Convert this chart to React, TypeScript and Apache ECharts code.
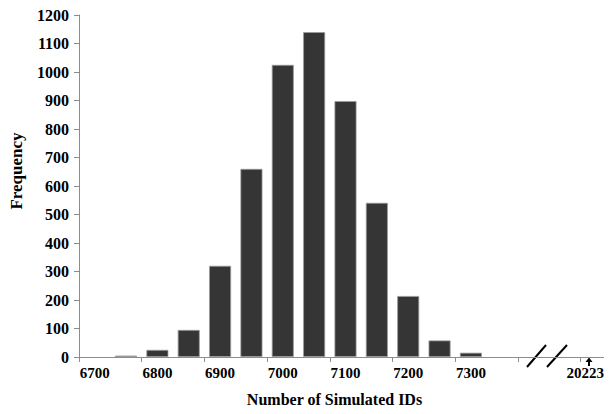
import React, { useEffect, useRef } from "react";
import * as echarts from "echarts";

const binLabels = [
  "6700", "6750", "6800", "6850", "6900", "6950", "7000", "7050", "7100",
  "7150", "7200", "7250", "7300", "7350", "7400", "break", "20223",
];
const frequencies = [0, 5, 25, 95, 320, 660, 1025, 1140, 898, 541, 214, 58, 15, 0, 0, 0, 0];
const xTickLabels = [
  "6700", "", "6800", "", "6900", "", "7000", "", "7100", "", "7200", "", "7300", "", "", "", "20223",
];
const yMin = 0;
const yMax = 1200;
const yStep = 100;

const FONT = "'Times New Roman', 'Liberation Serif', serif";

export default function App() {
  const ref = useRef<HTMLDivElement>(null);
  useEffect(() => {
    if (!ref.current) return;
    const chart = echarts.init(ref.current, null, { renderer: "svg" });
    chart.setOption({
      animation: false,
      grid: { left: 73, top: 15, width: 542, bottom: 57, containLabel: false },
      xAxis: {
        type: "category",
        data: binLabels,
        boundaryGap: true,
        name: "Number of Simulated IDs",
        nameLocation: "middle",
        nameGap: 34,
        nameTextStyle: {
          fontFamily: FONT, fontWeight: "bold", fontSize: 16, color: "#000",
          padding: [0, 22, 0, 0],
        },
        axisLine: { lineStyle: { color: "#8c8c8c", width: 1 } },
        axisTick: { show: true, interval: 1, length: 5, lineStyle: { color: "#8c8c8c" } },
        axisLabel: {
          interval: 0,
          margin: 8,
          fontFamily: FONT, fontWeight: "bold", fontSize: 15, color: "#000",
          formatter: (_v: string, i: number) => {
            const t = xTickLabels[i];
            if (!t) return "";
            return i === xTickLabels.length - 1 ? `{far|${t}}` : t;
          },
          rich: {
            far: {
              fontFamily: FONT, fontWeight: "bold", fontSize: 15, color: "#000",
              padding: [0, 22, 0, 0],
            },
          },
        },
        splitLine: { show: false },
      },
      yAxis: {
        type: "value",
        min: yMin,
        max: yMax,
        interval: yStep,
        name: "Frequency",
        nameLocation: "middle",
        nameRotate: 90,
        nameGap: 54,
        nameTextStyle: {
          fontFamily: FONT, fontWeight: "bold", fontSize: 17, color: "#000",
          padding: [0, 0, 0, 30],
        },
        axisLine: { show: true, lineStyle: { color: "#8c8c8c", width: 1 } },
        axisTick: { show: true, length: 5, lineStyle: { color: "#8c8c8c" } },
        axisLabel: {
          margin: 10,
          fontFamily: FONT, fontWeight: "bold", fontSize: 16, color: "#000",
          formatter: (v: number) => String(v),
        },
        splitLine: { show: false },
      },
      series: [
        {
          type: "bar",
          data: frequencies.map((v) => (v === 0 ? "-" : v)),
          barWidth: 22,
          itemStyle: { color: "#353535", borderColor: "#9a9a9a", borderWidth: 0.8 },
        },
      ],
      graphic: [
        { type: "line", shape: { x1: 527, y1: 367, x2: 546, y2: 345 }, style: { stroke: "#000", lineWidth: 2 } },
        { type: "line", shape: { x1: 547, y1: 367, x2: 567, y2: 345 }, style: { stroke: "#000", lineWidth: 2 } },
        { type: "polygon", shape: { points: [[589, 357.5], [585.5, 362], [592.5, 362]] }, style: { fill: "#000" } },
        { type: "rect", shape: { x: 588, y: 361, width: 2, height: 5 }, style: { fill: "#000" } },
      ],
    });
    return () => chart.dispose();
  }, []);
  return <div ref={ref} style={{ width: 612, height: 414, margin: -8 }} />;
}
